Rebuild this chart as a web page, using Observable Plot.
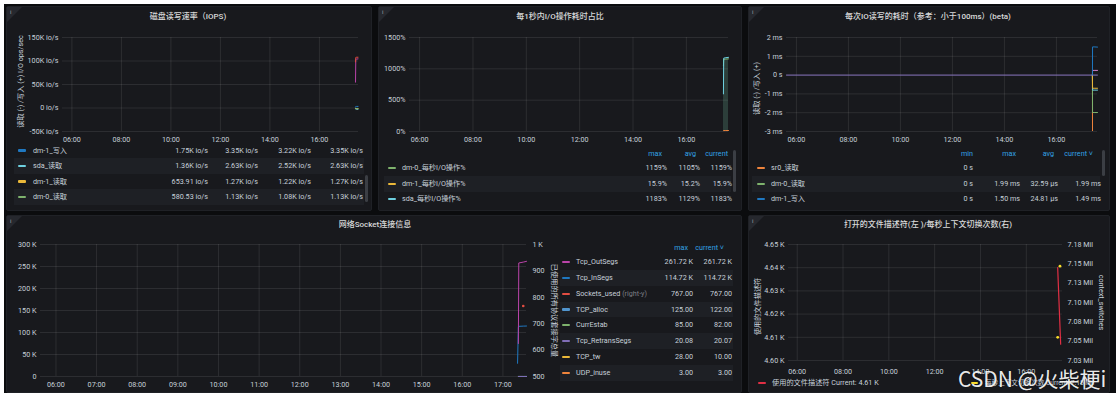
<!DOCTYPE html>
<html><head><meta charset="utf-8">
<script src="https://cdn.jsdelivr.net/npm/d3@7"></script>
<script src="https://cdn.jsdelivr.net/npm/@observablehq/plot@0.6"></script>
<style>
html,body{margin:0;padding:0;}
body{width:1116px;height:398px;position:relative;overflow:hidden;background:#ffffff;font-family:Roboto,"Noto Sans CJK SC",sans-serif;}
</style></head><body>
<script>
// ================= DATA =================
const timeDomain = [5.62, 17.58];
const hourTicksEven = [6, 8, 10, 12, 14, 16];
const hourLabelsEven = ["06:00", "08:00", "10:00", "12:00", "14:00", "16:00"];
const hourTicksAll = [6, 7, 8, 9, 10, 11, 12, 13, 14, 15, 16, 17];
const hourLabelsAll = ["06:00", "07:00", "08:00", "09:00", "10:00", "11:00", "12:00", "13:00", "14:00", "15:00", "16:00", "17:00"];

// Panel 1: 磁盘读写速率（IOPS)
const iopsTitle = "磁盘读写速率（IOPS)";
const iopsAxisLabel = "读取 (-) /写入 (+) I/O ops/sec";
const iopsTicks = [-50000, 0, 50000, 100000, 150000];
const iopsTickLabels = ["-50K io/s", "0 io/s", "50K io/s", "100K io/s", "150K io/s"];
const iopsTime = [17.46, 17.47, 17.50, 17.56];
const iopsDm0Write = [55000, 103000, 104000, 104500];
const iopsSdaWrite = [98000, 107500, 108000, 108000];
const iopsDm1Write = [1750, 3300, 3350, 3350];
const iopsSdaRead = [-1360, -2600, -2630, -2630];
const iopsDm1Read = [-653.91, -1250, -1270, -1270];
const iopsDm0Read = [-580.53, -1100, -1130, -1130];
const iopsLegendNames = ["dm-1_写入", "sda_读取", "dm-1_读取", "dm-0_读取"];
const iopsLegendValues = [
  ["1.75K io/s", "3.35K io/s", "3.22K io/s", "3.35K io/s"],
  ["1.36K io/s", "2.63K io/s", "2.52K io/s", "2.63K io/s"],
  ["653.91 io/s", "1.27K io/s", "1.22K io/s", "1.27K io/s"],
  ["580.53 io/s", "1.13K io/s", "1.08K io/s", "1.13K io/s"]
];

// Panel 2: 每1秒内I/O操作耗时占比
const pctTitle = "每1秒内I/O操作耗时占比";
const pctTicks = [0, 500, 1000, 1500];
const pctTickLabels = ["0%", "500%", "1000%", "1500%"];
const pctTime = [17.39, 17.40, 17.48, 17.58];
const pctDm0 = [1050, 1150, 1155, 1159];
const pctDm1 = [14.5, 15.2, 15.5, 15.9];
const pctSda = [600, 1170, 1178, 1183];
const pctHeaders = ["max", "avg", "current"];
const pctLegendNames = ["dm-0_每秒I/O操作%", "dm-1_每秒I/O操作%", "sda_每秒I/O操作%"];
const pctLegendValues = [["1159%", "1105%", "1159%"], ["15.9%", "15.2%", "15.9%"], ["1183%", "1129%", "1183%"]];

// Panel 3: 每次IO读写的耗时
const latTitle = "每次IO读写的耗时（参考：小于100ms）(beta)";
const latAxisLabel = "读取 (-) /写入 (+)";
const latTicks = [-3, -2, -1, 0, 1, 2];
const latTickLabels = ["-3 ms", "-2 ms", "-1 ms", "0 s", "1 ms", "2 ms"];
const latBaseTime = [5.62, 17.58];
const latSr0Write = [0, 0];
const latTime = [17.385, 17.39, 17.45, 17.58];
const latDm1Write = [0, 1.5, 1.5, 1.49];
const latDm0Write = [0, 0.25, 0.25, 0.25];
const latDm1Read = [0, -0.7, -0.7, -0.7];
const latSdaRead = [0, -0.8, -0.8, -0.8];
const latDm0Read = [0, -1.99, -1.99, -1.99];
const latSr0Read = [0, -5, -5, -5];
const latHeaders = ["min", "max", "avg", "current ˅"];
const latLegendNames = ["sr0_读取", "dm-0_读取", "dm-1_写入"];
const latLegendValues = [["0 s", "", "", ""], ["0 s", "1.99 ms", "32.59 µs", "1.99 ms"], ["0 s", "1.50 ms", "24.81 µs", "1.49 ms"]];

// Panel 4: 网络Socket连接信息
const sockTitle = "网络Socket连接信息";
const sockRightLabel = "已使用的所有协议套接字总量";
const sockLeftDomain = [0, 300000];
const sockRightDomain = [500, 1000];
const sockTicks = [0, 50000, 100000, 150000, 200000, 250000, 300000];
const sockTickLabels = ["0", "50 K", "100 K", "150 K", "200 K", "250 K", "300 K"];
const sockRightTicks = [500, 600, 700, 800, 900, 1000];
const sockRightTickLabels = ["500", "600", "700", "800", "900", "1 K"];
const sockTime = [17.36, 17.38, 17.39, 17.50, 17.58];
const sockOutSegs = [null, 75000, 258000, 260000, 261720];
const sockInSegs = [30000, 113000, 114000, 114500, 114720];
const sockSocketsUsed = [null, null, null, 767, null];
const sockTcpAlloc = [null, 120, 125, 123, 122];
const sockCurrEstab = [null, 80, 85, 83, 82];
const sockRetrans = [null, 20.08, 20.08, 20.07, 20.07];
const sockTcpTw = [null, 28, 20, 12, 10];
const sockUdpInuse = [null, 3, 3, 3, 3];
const sockHeaders = ["max", "current ˅"];
const sockLegendNames = ["Tcp_OutSegs", "Tcp_InSegs", "Sockets_used", "TCP_alloc", "CurrEstab", "Tcp_RetransSegs", "TCP_tw", "UDP_inuse"];
const sockLegendNotes = ["", "", "(right-y)", "", "", "", "", ""];
const sockLegendValues = [["261.72 K", "261.72 K"], ["114.72 K", "114.72 K"], ["767.00", "767.00"], ["125.00", "122.00"], ["85.00", "82.00"], ["20.08", "20.07"], ["28.00", "10.00"], ["3.00", "3.00"]];

// Panel 5: 打开的文件描述符 / 上下文切换
const fdTitle = "打开的文件描述符(左 )/每秒上下文切换次数(右)";
const fdLeftLabel = "使用的文件描述符";
const fdRightLabel = "context_switches";
const fdLeftDomain = [4600, 4650];
const fdRightDomain = [7025000, 7175000];
const fdTicks = [4600, 4610, 4620, 4630, 4640, 4650];
const fdTickLabels = ["4.60 K", "4.61 K", "4.62 K", "4.63 K", "4.64 K", "4.65 K"];
const ctxTicks = [7025000, 7050000, 7075000, 7100000, 7125000, 7150000, 7175000];
const ctxTickLabels = ["7.03 Mil", "7.05 Mil", "7.08 Mil", "7.10 Mil", "7.13 Mil", "7.15 Mil", "7.18 Mil"];
const fdTime = [17.37, 17.50];
const fdUsed = [4640, 4607];
const ctxTime = [17.37, 17.47];
const ctxSwitches = [7055000, 7147000];
const fdLegend = ["使用的文件描述符 Current: 4.61 K", "每秒上下文切换次数 Current: 7.15 Mil"];

const watermark = "CSDN @火柴梗i";

// ================= STYLE / HELPERS =================
const FONT = 'Roboto, "Noto Sans CJK SC", sans-serif';
const C = {
  green: "#7eb26d", yellow: "#eab839", cyan: "#6ed0e0", orange: "#ef843c", red: "#e24d42",
  blue: "#1f78c1", magenta: "#ba43a9", purple: "#806eb7", pink: "#d683ce", lblue: "#5195ce",
  fdRed: "#e02f44", ctxYellow: "#fade2a"
};
const TICK = "#c7d0d9";
const body = document.body;

function div(parent, css, text) {
  const d = document.createElement("div");
  d.style.cssText = "position:absolute;" + css;
  if (text != null) d.textContent = text;
  parent.appendChild(d);
  return d;
}
function txt(parent, x, y, s, o = {}) {
  const size = o.size || 7.2;
  let css = `top:${y - 6}px;height:12px;line-height:12px;font-size:${size}px;color:${o.color || "#c7d0d9"};white-space:nowrap;font-weight:${o.weight || 400};`;
  if (o.align === "right") css += `left:${x - 300}px;width:300px;text-align:right;`;
  else if (o.align === "center") css += `left:${x - 300}px;width:600px;text-align:center;`;
  else css += `left:${x}px;`;
  return div(parent, css, s);
}
function marker(parent, x0, x1, y, color) {
  div(parent, `left:${x0}px;top:${y - 1.25}px;width:${x1 - x0}px;height:2.5px;border-radius:1px;background:${color};`);
}
function series(times, vals) { return times.map((t, i) => ({t, v: vals[i]})); }
function lbl(ticks, labels) { return d => labels[ticks.indexOf(d)]; }

// dashboard background + panels
div(body, "left:4px;top:4px;width:1112px;height:389px;background:#0b0c0e;");
const panels = [[6, 6, 366, 205], [378, 6, 364, 205], [748, 6, 362, 205], [6, 215, 736, 178], [748, 215, 362, 178]];
for (const [x, y, w, h] of panels) {
  div(body, `left:${x}px;top:${y}px;width:${w}px;height:${h}px;background:#18191d;border:1px solid #1f2126;box-sizing:border-box;border-radius:2px;`);
  div(body, `left:${x + 1}px;top:${y + 1}px;width:0;height:0;border-top:15px solid #26282e;border-right:15px solid transparent;`);
  txt(body, x + 4, y + 6, "i", {size: 6, color: "#9fa3a8"});
}

function chart(o) {
  const marks = [
    Plot.gridX({ticks: o.xTicks, stroke: "#ffffff", strokeOpacity: 0.09}),
    Plot.gridY({ticks: o.yTicks, stroke: "#ffffff", strokeOpacity: 0.09}),
    Plot.axisX({ticks: o.xTicks, tickFormat: lbl(o.xTicks, o.xLabels), tickSize: 0, tickPadding: o.xPad, label: null}),
    Plot.axisY({ticks: o.yTicks, tickFormat: lbl(o.yTicks, o.yLabels), tickSize: 0, tickPadding: o.yPad, label: null})
  ];
  if (o.rTicks) marks.push(Plot.axisY({anchor: "right", ticks: o.rTicks, tickFormat: lbl(o.rTicks, o.rLabels), tickSize: 0, tickPadding: o.rPad, label: null}));
  if (o.leftLabel) marks.push(Plot.text([o.leftLabel], {text: d => d, frameAnchor: "left", textAnchor: "middle", rotate: -90, dx: o.leftDx, dy: o.leftDy || 0, fontSize: o.leftSize || 7.2, fill: TICK}));
  if (o.rightLabel) marks.push(Plot.text([o.rightLabel], {text: d => d, frameAnchor: "right", textAnchor: "middle", rotate: 90, dx: o.rightDx, fontSize: 7.2, fill: TICK}));
  const svg = Plot.plot({
    width: o.w, height: o.h,
    marginTop: o.mt, marginRight: o.mr, marginBottom: o.mb, marginLeft: o.ml,
    x: {domain: timeDomain},
    y: {domain: o.yDomain},
    style: {background: "transparent", color: TICK, fontSize: "7.2px", fontFamily: FONT, overflow: "visible"},
    marks: [...marks, ...o.marks]
  });
  Object.assign(svg.style, {position: "absolute", left: o.x + "px", top: o.y + "px", maxWidth: "none"});
  body.appendChild(svg);
}
function line(times, vals, color, extra = {}) {
  return Plot.line(series(times, vals), {x: "t", y: "v", stroke: color, strokeWidth: 1, ...extra});
}

// ================= PANEL 1 =================
txt(body, 188, 17, iopsTitle, {align: "center", size: 8, color: "#d8d9da", weight: 500});
chart({
  x: 6, y: 27, w: 366, h: 120, mt: 10, mr: 14, mb: 16, ml: 56,
  xTicks: hourTicksEven, xLabels: hourLabelsEven, xPad: 5,
  yDomain: [-50000, 150000], yTicks: iopsTicks, yLabels: iopsTickLabels, yPad: 4,
  leftLabel: iopsAxisLabel, leftDx: -42, leftDy: -3,
  marks: [
    line(iopsTime, iopsDm0Write, C.magenta),
    line(iopsTime, iopsSdaWrite, C.red),
    line(iopsTime, iopsDm1Write, C.blue),
    line(iopsTime, iopsSdaRead, C.cyan),
    line(iopsTime, iopsDm1Read, C.yellow),
    line(iopsTime, iopsDm0Read, C.green)
  ]
});
{
  const clip = div(body, "left:6px;top:147px;width:366px;height:62px;overflow:hidden;");
  const ox = 6, oy = 147;
  const rowsY = [150.7, 166, 181.7, 197];
  const colors = [C.blue, C.cyan, C.yellow, C.green];
  const cols = [208, 258, 311, 363];
  rowsY.forEach((y, i) => {
    if (i % 2 === 1) div(clip, `left:${14 - ox}px;top:${y - 8 - oy}px;width:350px;height:15.5px;background:#1e2025;`);
    marker(clip, 18 - ox, 26 - ox, y - oy, colors[i]);
    txt(clip, 33 - ox, y - oy, iopsLegendNames[i]);
    cols.forEach((cx, j) => txt(clip, cx - ox, y - oy, iopsLegendValues[i][j], {align: "right"}));
  });
  div(body, "left:365px;top:175px;width:3px;height:27px;border-radius:2px;background:#3b3e44;");
}

// ================= PANEL 2 =================
txt(body, 560, 17, pctTitle, {align: "center", size: 8, color: "#d8d9da", weight: 500});
chart({
  x: 378, y: 27, w: 364, h: 120, mt: 10, mr: 14, mb: 16, ml: 31,
  xTicks: hourTicksEven, xLabels: hourLabelsEven, xPad: 5,
  yDomain: [0, 1500], yTicks: pctTicks, yLabels: pctTickLabels, yPad: 4,
  marks: [
    Plot.areaY(series(pctTime, pctSda), {x: "t", y: "v", fill: C.cyan, fillOpacity: 0.12}),
    Plot.areaY(series(pctTime, pctDm0), {x: "t", y: "v", fill: C.green, fillOpacity: 0.12}),
    line(pctTime, pctDm1, C.orange),
    line(pctTime, pctDm0, C.green),
    line(pctTime, pctSda, C.cyan)
  ]
});
{
  const hdr = [662, 696, 728];
  pctHeaders.forEach((h, j) => txt(body, hdr[j], 154, h, {align: "right", color: "#33a2e5"}));
  const rowsY = [168, 184, 199];
  const colors = [C.green, C.yellow, C.cyan];
  const cols = [667, 700, 732];
  rowsY.forEach((y, i) => {
    if (i % 2 === 1) div(body, `left:384px;top:${y - 8}px;width:347px;height:15.5px;background:#1e2025;`);
    marker(body, 388, 396, y, colors[i]);
    txt(body, 402, y, pctLegendNames[i]);
    cols.forEach((cx, j) => txt(body, cx, y, pctLegendValues[i][j], {align: "right"}));
  });
  div(body, "left:733px;top:150px;width:3px;height:42px;border-radius:2px;background:#3b3e44;");
}

// ================= PANEL 3 =================
txt(body, 928, 17, latTitle, {align: "center", size: 8, color: "#d8d9da", weight: 500});
chart({
  x: 748, y: 27, w: 362, h: 120, mt: 10, mr: 13, mb: 16, ml: 38,
  xTicks: hourTicksEven, xLabels: hourLabelsEven, xPad: 5,
  yDomain: [-3, 2], yTicks: latTicks, yLabels: latTickLabels, yPad: 4,
  leftLabel: latAxisLabel, leftDx: -30, leftDy: 4,
  marks: [
    line(latBaseTime, latSr0Write, C.purple),
    line(latTime, latSr0Read, C.orange, {clip: true}),
    line(latTime, latDm0Read, C.green),
    line(latTime, latSdaRead, C.cyan),
    line(latTime, latDm1Read, C.yellow),
    line(latTime, latDm0Write, C.pink),
    line(latTime, latDm1Write, C.blue)
  ]
});
{
  const hdr = [973, 1016, 1054, 1093];
  latHeaders.forEach((h, j) => txt(body, hdr[j], 154, h, {align: "right", color: "#33a2e5"}));
  const rowsY = [168, 184, 199];
  const colors = [C.orange, C.green, C.blue];
  const cols = [973, 1020, 1058, 1101];
  rowsY.forEach((y, i) => {
    if (i % 2 === 1) div(body, `left:752px;top:${y - 8}px;width:348px;height:15.5px;background:#1e2025;`);
    marker(body, 757, 765, y, colors[i]);
    txt(body, 771, y, latLegendNames[i]);
    cols.forEach((cx, j) => txt(body, cx, y, latLegendValues[i][j], {align: "right"}));
  });
  div(body, "left:1102px;top:150px;width:3px;height:26px;border-radius:2px;background:#3b3e44;");
}

// ================= PANEL 4 =================
txt(body, 375, 225, sockTitle, {align: "center", size: 8, color: "#d8d9da", weight: 500});
{
  const toLeft = d3.scaleLinear().domain(sockRightDomain).range(sockLeftDomain);
  const rPos = sockRightTicks.map(toLeft);
  chart({
    x: 6, y: 236, w: 736, h: 157, mt: 8, mr: 216, mb: 17, ml: 34,
    xTicks: hourTicksAll, xLabels: hourLabelsAll, xPad: 5,
    yDomain: sockLeftDomain, yTicks: sockTicks, yLabels: sockTickLabels, yPad: 4,
    rTicks: rPos, rLabels: sockRightTickLabels, rPad: 6,
    rightLabel: sockRightLabel, rightDx: 28,
    marks: [
      line(sockTime, sockUdpInuse, C.orange),
      line(sockTime, sockTcpTw, C.yellow),
      line(sockTime, sockCurrEstab, C.green),
      line(sockTime, sockTcpAlloc, C.lblue),
      line(sockTime, sockRetrans, C.purple),
      line(sockTime, sockInSegs, C.blue),
      line(sockTime, sockOutSegs, C.magenta),
      Plot.dot(series(sockTime, sockSocketsUsed), {x: "t", y: d => d.v == null ? null : toLeft(d.v), r: 1.3, fill: C.red, stroke: null})
    ]
  });
  const hdr = [688, 724];
  sockHeaders.forEach((h, j) => txt(body, hdr[j], 248, h, {align: "right", color: "#33a2e5"}));
  const rowsY = [262, 278, 294, 309.5, 325, 341, 357, 373];
  const colors = [C.magenta, C.blue, C.red, C.lblue, C.green, C.purple, C.yellow, C.orange];
  const cols = [693, 732];
  rowsY.forEach((y, i) => {
    if (i % 2 === 1) div(body, `left:560px;top:${y - 8}px;width:173px;height:15.5px;background:#1e2025;`);
    marker(body, 562, 570, y, colors[i]);
    const t = txt(body, 576, y, sockLegendNames[i]);
    if (sockLegendNotes[i]) {
      const s = document.createElement("span");
      s.textContent = " " + sockLegendNotes[i];
      s.style.color = "#7b7e84";
      t.appendChild(s);
    }
    cols.forEach((cx, j) => txt(body, cx, y, sockLegendValues[i][j], {align: "right"}));
  });
}

// ================= PANEL 5 =================
txt(body, 928, 225, fdTitle, {align: "center", size: 8, color: "#d8d9da", weight: 500});
{
  const toLeft = d3.scaleLinear().domain(fdRightDomain).range(fdLeftDomain);
  const rPos = ctxTicks.map(toLeft);
  chart({
    x: 748, y: 236, w: 362, h: 142, mt: 8, mr: 48, mb: 18, ml: 40,
    xTicks: hourTicksEven, xLabels: hourLabelsEven, xPad: 8,
    yDomain: fdLeftDomain, yTicks: fdTicks, yLabels: fdTickLabels, yPad: 4,
    rTicks: rPos, rLabels: ctxTickLabels, rPad: 5,
    leftLabel: fdLeftLabel, leftDx: -31, leftDy: 4,
    rightLabel: fdRightLabel, rightDx: 39,
    marks: [
      line(fdTime, fdUsed, C.fdRed, {strokeWidth: 1.2}),
      Plot.dot(series(ctxTime, ctxSwitches), {x: "t", y: d => toLeft(d.v), r: 1.4, fill: C.ctxYellow, stroke: null})
    ]
  });
  const clip = div(body, "left:748px;top:376px;width:361px;height:15px;overflow:hidden;");
  marker(clip, 10, 18, 7, C.fdRed);
  txt(clip, 24, 7, fdLegend[0]);
  marker(clip, 223, 230, 7, C.ctxYellow);
  txt(clip, 237, 7, fdLegend[1], {size: 6.6});
}

// watermark
div(body, `left:958px;top:364px;height:28px;line-height:28px;font-size:21px;color:rgba(255,255,255,0.93);white-space:nowrap;font-family:"Noto Sans CJK SC",sans-serif;text-shadow:0 0 1px rgba(0,0,0,0.4);`, watermark);
</script>
</body></html>
